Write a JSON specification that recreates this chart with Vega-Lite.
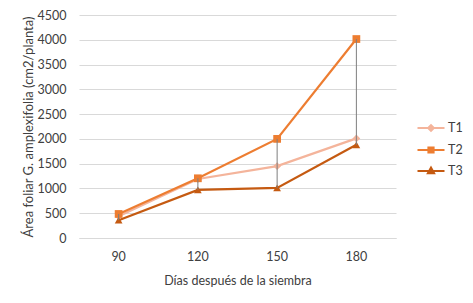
{
  "$schema": "https://vega.github.io/schema/vega-lite/v6.json",
  "width": 317,
  "height": 223,
  "autosize": {"type": "none"},
  "padding": {"left": 79, "top": 15, "right": 77, "bottom": 65},
  "background": "white",
  "config": {
    "view": {"stroke": null},
    "font": "Lato",
    "axis": {"labelFont": "Lato", "titleFont": "Lato", "labelColor": "#404040", "titleColor": "#404040", "labelFontSize": 12.5, "titleFontSize": 12.5, "titleFontWeight": "normal"},
    "legend": {"labelFont": "Lato", "labelFontSize": 12.5, "labelColor": "#404040"}
  },
  "data": {
    "values": [
      {"day": "90", "series": "T1", "value": 440},
      {"day": "120", "series": "T1", "value": 1190},
      {"day": "150", "series": "T1", "value": 1450},
      {"day": "180", "series": "T1", "value": 2010},
      {"day": "90", "series": "T2", "value": 485},
      {"day": "120", "series": "T2", "value": 1205},
      {"day": "150", "series": "T2", "value": 2000},
      {"day": "180", "series": "T2", "value": 4015},
      {"day": "90", "series": "T3", "value": 360},
      {"day": "120", "series": "T3", "value": 970},
      {"day": "150", "series": "T3", "value": 1010},
      {"day": "180", "series": "T3", "value": 1880}
    ]
  },
  "encoding": {
    "x": {
      "field": "day", "type": "ordinal", "sort": ["90", "120", "150", "180"],
      "scale": {"type": "band", "paddingInner": 0, "paddingOuter": 0},
      "axis": {"title": "Días después de la siembra", "labelAngle": 0, "ticks": false, "domainColor": "#D9D9D9", "labelPadding": 12, "titlePadding": 12}
    },
    "y": {
      "field": "value", "type": "quantitative",
      "scale": {"domain": [0, 4500], "nice": false},
      "axis": {"title": "Área foliar G. amplexifolia (cm2/planta)", "titleFontSize": 13, "format": "d", "values": [0, 500, 1000, 1500, 2000, 2500, 3000, 3500, 4000, 4500], "domain": false, "ticks": false, "gridColor": "#D9D9D9", "labelPadding": 13, "titlePadding": 2}
    }
  },
  "layer": [
    {
      "mark": {"type": "line", "strokeWidth": 2.2},
      "encoding": {
        "color": {
          "field": "series", "type": "nominal",
          "scale": {"domain": ["T1", "T2", "T3"], "range": ["#F4B49B", "#ED7D31", "#C55A11"]},
          "legend": {
            "title": null, "orient": "none", "legendX": 338, "legendY": 99,
            "symbolSize": 625, "rowPadding": 0, "labelOffset": 3,
            "encode": {
              "symbols": {
                "update": {
                  "shape": {"signal": "datum.value === 'T1' ? 'M-1.08,0H1.08M0,-0.22L0.22,0L0,0.22L-0.22,0Z' : datum.value === 'T2' ? 'M-1.08,0H1.08M-0.2,-0.2H0.2V0.2H-0.2Z' : 'M-1.08,0H1.08M0,-0.26L0.24,0.18L-0.24,0.18Z'"},
                  "fill": {"signal": "scale('color', datum.value)"},
                  "stroke": {"signal": "scale('color', datum.value)"},
                  "strokeWidth": {"value": 2.2},
                  "opacity": {"value": 1}
                }
              }
            }
          }
        }
      }
    },
    {
      "transform": [{"filter": "datum.series === 'T1'"}],
      "mark": {"type": "point", "filled": true, "opacity": 1, "size": 60, "shape": "diamond"},
      "encoding": {"color": {"field": "series", "type": "nominal"}}
    },
    {
      "transform": [{"filter": "datum.series === 'T2'"}],
      "mark": {"type": "point", "filled": true, "opacity": 1, "size": 60, "shape": "square"},
      "encoding": {"color": {"field": "series", "type": "nominal"}}
    },
    {
      "transform": [{"filter": "datum.series === 'T3'"}],
      "mark": {"type": "point", "filled": true, "opacity": 1, "size": 60, "shape": "triangle-up"},
      "encoding": {"color": {"field": "series", "type": "nominal"}}
    },
    {
      "mark": {"type": "rule", "color": "#7F7F7F", "strokeWidth": 1},
      "encoding": {
        "y": {"aggregate": "min", "field": "value", "type": "quantitative"},
        "y2": {"aggregate": "max", "field": "value"}
      }
    }
  ]
}
